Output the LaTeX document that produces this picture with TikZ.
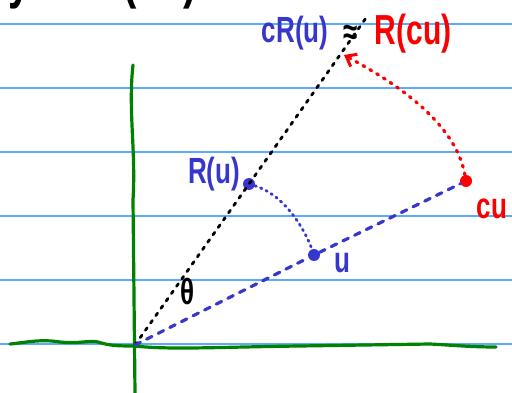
\documentclass[tikz,border=0pt]{standalone}
\usepackage{fontspec}
\setsansfont{Liberation Sans}
\usepackage{tikz}
\usetikzlibrary{arrows.meta,positioning,calc}

\definecolor{rule}{RGB}{90,170,255}
\definecolor{pen}{RGB}{55,55,205}
\definecolor{ink}{RGB}{250,0,0}
\definecolor{axis}{RGB}{0,130,0}

\newcommand\tall[1]{\scalebox{1}[1.4]{#1}}

\begin{document}
\begin{tikzpicture}[
            x=1pt, y=-1pt,
            font=\fontsize{26}{28}\selectfont\sffamily\bfseries,
        % handwritten labels
            lbl/.style={inner sep=0pt},
        % filled marker dots
            bdot/.style={circle, fill=pen, minimum size=12pt, inner sep=0pt},
            rdot/.style={circle, fill=ink, minimum size=12pt, inner sep=0pt},
            ruled/.style={rule, line width=1.3pt},
            axisline/.style={axis, line width=3.2pt, line cap=round},
            blkdots/.style={black, line width=2.8pt, line cap=round, dash pattern=on 3pt off 6pt},
            bluedash/.style={pen, line width=3.2pt, line cap=round, dash pattern=on 6pt off 7pt},
            bluedots/.style={pen, line width=2.8pt, line cap=round, dash pattern=on 1.5pt off 4.5pt},
            reddots/.style={ink, line width=3.2pt, line cap=round, dash pattern=on 2pt off 6pt}
        ]
            \useasboundingbox (0,0) rectangle (512,393);

% --- ruled paper ---
            \foreach \yy in {24,88,152,216,280,344}
            \draw[ruled] (0,\yy) -- (512,\yy);

% --- axes ---
            \draw[axisline] (133,65) .. controls (128,110) and (136,150) .. (133,200) -- (135,393);
            \draw[axisline] (10,344) .. controls (30,342) and (40,339) .. (60,342)
            .. controls (80,344) and (90,340) .. (98,342)
            .. controls (110,346) and (120,346) .. (135,346)
            .. controls (170,350) and (220,347) .. (300,346)
            -- (430,344) .. controls (450,345) and (470,347) .. (496,347);

% --- points ---
            \coordinate (O) at (135,345);
            \node[bdot] (Ru) at (249,184) {};
            \node[bdot] (u)  at (314,255) {};
            \node[rdot] (cu) at (466,181) {};
            \coordinate (top) at (366,18);
            \coordinate (Rcu) at (344,55);

% --- lines through the origin ---
            \draw[blkdots] (O) -- (Ru.center) -- (top);
            \draw[bluedash] (O) -- (u) -- (cu);

% --- rotations ---
            \draw[bluedots] (Ru) .. controls (285,195) and (305,230) .. (u);
            \draw[reddots, -{Straight Barb[length=9pt,width=14pt,line width=3pt]}]
            (cu) .. controls (455,120) and (390,80) .. (Rcu);

% --- labels ---
            \node[lbl, pen] (Rulbl) at (214,174) {\tall{R(u)}};
            \node[lbl, pen] (ulbl) at (342,263) {\tall{u}};
            \node[lbl, ink] (culbl) at (492,209) {\tall{cu}};
            \node[lbl, pen] (cRu) at (295,33) {\tall{cR(u)}};
            \node[lbl] (approx) at (351,35) {\tall{≈}};
            \node[lbl, ink, font=\fontsize{30}{32}\selectfont\sffamily\bfseries] (Rculbl) at (413,34) {\tall{R(cu)}};
            \node[lbl] (theta) at (188,291) {\tall{θ}};
            \node[lbl, anchor=base west, font=\fontsize{40}{42}\selectfont\sffamily\bfseries] (eqn) at (8,-2) {\tall{y\hspace{45pt}= f(cu)}};
        \end{tikzpicture}
\end{document}
